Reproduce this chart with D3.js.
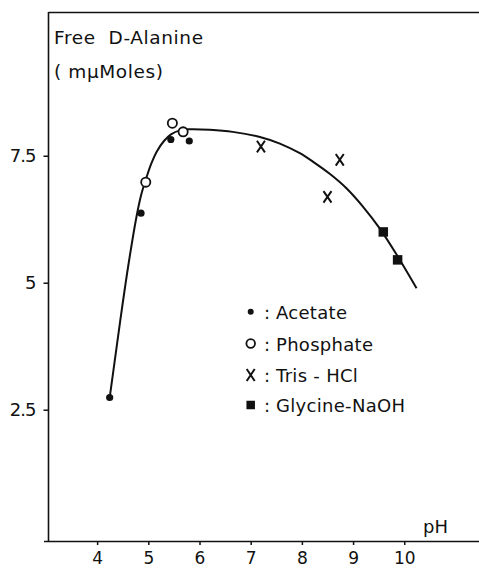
<!DOCTYPE html>
<html>
<head>
<meta charset="utf-8">
<script src="https://cdn.jsdelivr.net/npm/d3@7"></script>
<style>
  html, body { margin: 0; padding: 0; background: #fff; }
  svg { display: block; }
  text { font-family: "DejaVu Sans", sans-serif; fill: #111; }
</style>
</head>
<body>
<svg id="chart" width="479" height="568"></svg>
<script>
// ---- data ----
const acetatePH   = [4.245, 4.857, 5.44, 5.80];
const acetateVal  = [2.74, 6.37, 7.82, 7.79];
const phosphatePH  = [4.95, 5.47, 5.68];
const phosphateVal = [6.98, 8.14, 7.97];
const trisPH  = [7.20, 8.74, 8.50];
const trisVal = [7.68, 7.42, 6.69];
const glycinePH  = [9.59, 9.87];
const glycineVal = [6.00, 5.45];
// smooth fitted curve
const curvePH  = [4.245, 4.349, 4.447, 4.603, 4.769, 4.866, 4.948, 5.052, 5.169, 5.306, 5.443, 5.619, 5.814, 6.2, 6.65, 7.18, 7.57, 7.96, 8.22, 8.55, 8.87, 9.2, 9.52, 9.87, 10.24];
const curveVal = [2.74, 3.50, 4.22, 5.30, 6.30, 6.75, 7.02, 7.33, 7.59, 7.79, 7.92, 8.00, 8.02, 8.01, 7.97, 7.87, 7.74, 7.55, 7.38, 7.14, 6.86, 6.49, 6.07, 5.52, 4.89];
const xTicks = [4, 5, 6, 7, 8, 9, 10];
const yTicks = [2.5, 5, 7.5];
const yTickLabels = ["2.5", "5", "7.5"];
const legendLabels = ["Acetate", "Phosphate", "Tris - HCl", "Glycine-NaOH"];
const titleLines = ["Free  D-Alanine", "( mμMoles)"];

// ---- scales ----
const svg = d3.select("#chart");
const x = d3.scaleLinear().domain([3.05, 11.46]).range([48.5, 479]);
const y = d3.scaleLinear().domain([-0.085, 10.33]).range([541, 12]);

const ink = "#111";

// frame: top line
svg.append("line").attr("x1", 48.5).attr("x2", 479).attr("y1", 12.5).attr("y2", 12.5)
  .attr("stroke", ink).attr("stroke-width", 1.6);

const xAxis = d3.axisBottom(x).tickValues(xTicks).tickSize(4).tickPadding(8).tickFormat(d3.format("d"));
const gx = svg.append("g").attr("transform", "translate(0,541)").call(xAxis);
gx.select(".domain").attr("d", "M44,0.5H479").attr("stroke", ink).attr("stroke-width", 1.6);
gx.selectAll(".tick line").attr("stroke", ink).attr("stroke-width", 1.5);
gx.selectAll(".tick text").attr("font-size", 17).attr("fill", ink)
  .style("font-family", "DejaVu Sans, sans-serif").attr("y", 23).attr("dy", 0);

const yAxis = d3.axisLeft(y).tickValues(yTicks).tickSize(5).tickPadding(8)
  .tickFormat((d, i) => yTickLabels[i]);
const gy = svg.append("g").attr("transform", "translate(48.5,0)").call(yAxis);
gy.select(".domain").attr("d", "M0,12V541").attr("stroke", ink).attr("stroke-width", 1.6);
gy.selectAll(".tick line").attr("stroke", ink).attr("stroke-width", 1.5);
gy.selectAll(".tick text").attr("font-size", 18).attr("fill", ink)
  .style("font-family", "DejaVu Sans, sans-serif").attr("letter-spacing", -1);

// title
svg.append("text").attr("x", 54).attr("y", 44).attr("font-size", 18.5)
  .attr("letter-spacing", 0.6).style("white-space", "pre").text(titleLines[0]);
svg.append("text").attr("x", 54).attr("y", 78).attr("font-size", 18.5)
  .attr("letter-spacing", 0.6).style("white-space", "pre").text(titleLines[1]);

// pH label
svg.append("text").attr("x", 423).attr("y", 533).attr("font-size", 18).text("pH");

// curve
const curveData = curvePH.map((p, i) => [p, curveVal[i]]);
svg.append("path").datum(curveData)
  .attr("d", d3.line().x(d => x(d[0])).y(d => y(d[1])).curve(d3.curveCatmullRom.alpha(0.5)))
  .attr("fill", "none").attr("stroke", ink).attr("stroke-width", 2);

// markers
function drawDots(g, cx, cy, r) {
  g.append("circle").attr("cx", cx).attr("cy", cy).attr("r", r).attr("fill", ink);
}
function drawOpen(g, cx, cy, r) {
  g.append("circle").attr("cx", cx).attr("cy", cy).attr("r", r).attr("fill", "#fff")
    .attr("stroke", ink).attr("stroke-width", 1.8);
}
function drawX(g, cx, cy, w, h) {
  g.append("path").attr("d", `M${cx - w},${cy - h}L${cx + w},${cy + h}M${cx + w},${cy - h}L${cx - w},${cy + h}`)
    .attr("stroke", ink).attr("stroke-width", 2).attr("fill", "none");
}
function drawSq(g, cx, cy, s) {
  g.append("rect").attr("x", cx - s / 2).attr("y", cy - s / 2).attr("width", s).attr("height", s).attr("fill", ink);
}

const gm = svg.append("g");
acetatePH.forEach((p, i) => drawDots(gm, x(p), y(acetateVal[i]), 3.6));
phosphatePH.forEach((p, i) => drawOpen(gm, x(p), y(phosphateVal[i]), 4.6));
trisPH.forEach((p, i) => drawX(gm, x(p), y(trisVal[i]), 4, 5.8));
glycinePH.forEach((p, i) => drawSq(gm, x(p), y(glycineVal[i]), 9.5));

// legend
const lg = svg.append("g");
const rowY = [311.7, 343.5, 375, 405];
const symX = 250.7;
drawDots(lg, symX, rowY[0], 3);
drawOpen(lg, symX, rowY[1], 4.3);
drawX(lg, symX, rowY[2], 4, 6);
drawSq(lg, symX, rowY[3], 8.5);
legendLabels.forEach((t, i) => {
  lg.append("text").attr("x", 264).attr("y", rowY[i] + 7).attr("font-size", 18).text(":");
  lg.append("text").attr("x", 276).attr("y", rowY[i] + 7).attr("font-size", 18)
    .attr("letter-spacing", 0.3).style("white-space", "pre").text(t);
});
</script>
</body>
</html>
